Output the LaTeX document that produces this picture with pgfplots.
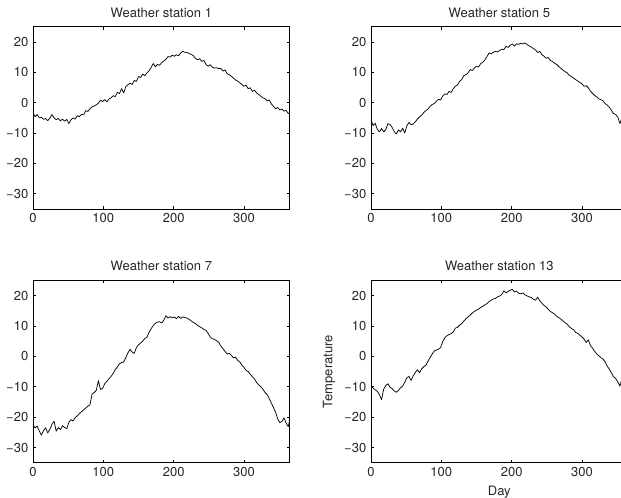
\documentclass[border=0pt]{standalone}
\usepackage{pgfplots}
\pgfplotsset{compat=1.18}
\usepackage{pgfplotstable}
\usepackage{fontspec}
\setmainfont{TeX Gyre Heros}

\pgfplotstableread{
d t
0 -3.4
3 -4.6
6 -3.9
9 -5.0
12 -4.8
15 -5.5
18 -5.2
21 -5.9
24 -5.1
27 -3.9
30 -5.0
33 -5.6
36 -5.2
39 -6.0
42 -5.4
45 -6.1
48 -5.5
51 -6.9
54 -5.6
57 -5.0
60 -5.4
63 -4.3
66 -4.6
69 -3.8
72 -4.0
75 -2.6
78 -2.9
81 -2.0
84 -1.4
87 -1.1
90 -0.7
93 -0.2
96 0.8
99 0.4
102 1.0
105 0.3
108 1.2
111 1.6
114 2.3
117 2.0
120 3.4
123 3.0
126 4.6
129 3.2
132 5.3
135 5.9
138 6.4
141 6.0
144 7.3
147 7.0
150 8.6
153 8.3
156 9.4
159 8.9
162 9.8
165 10.5
168 11.6
171 12.9
174 11.8
177 12.6
180 12.3
183 13.2
186 13.7
189 14.3
192 15.2
195 15.0
198 15.6
201 15.3
204 15.8
207 15.4
210 16.4
213 16.9
216 16.6
219 16.5
222 16.2
225 15.9
228 15.5
231 14.6
234 14.1
237 14.5
240 13.6
243 13.9
246 12.6
249 12.0
252 12.5
255 11.7
258 11.4
261 11.5
264 11.2
267 11.3
270 10.4
273 10.8
276 9.6
279 9.2
282 8.7
285 8.1
288 7.5
291 7.1
294 6.6
297 6.0
300 5.4
303 5.8
306 4.6
309 4.9
312 3.7
315 4.1
318 3.2
321 2.7
324 2.1
327 1.6
330 1.3
333 0.6
336 0.9
339 -0.4
342 -1.2
345 -2.0
348 -1.6
351 -2.4
354 -2.1
357 -2.8
360 -2.5
363 -3.6
365 -3.3
}\stA

\pgfplotstableread{
d t
0 -5.8
3 -7.5
6 -6.8
9 -8.8
12 -9.6
15 -8.5
18 -9.6
21 -8.9
24 -6.9
27 -7.2
30 -8.1
33 -9.5
36 -10.3
39 -9.0
42 -9.6
45 -8.4
48 -10.0
51 -7.6
54 -6.5
57 -7.3
60 -7.0
63 -6.3
66 -5.4
69 -4.7
72 -4.1
75 -3.3
78 -2.6
81 -2.1
84 -1.2
87 -0.6
90 -0.3
93 0.5
96 1.1
99 0.9
102 2.2
105 2.9
108 2.7
111 3.7
114 3.4
117 4.6
120 5.4
123 5.9
126 7.0
129 7.6
132 8.9
135 9.2
138 9.8
141 10.9
144 10.6
147 11.4
150 12.0
153 11.7
156 12.9
159 13.3
162 14.1
165 15.2
168 16.4
171 16.1
174 16.6
177 16.9
180 16.7
183 17.2
186 17.6
189 17.5
192 18.5
195 18.2
198 18.9
201 19.3
204 18.6
207 19.4
210 19.2
213 19.6
216 19.3
219 19.7
222 19.1
225 18.7
228 18.3
231 17.8
234 17.4
237 16.5
240 16.9
243 15.8
246 15.3
249 14.6
252 14.9
255 13.9
258 13.6
261 13.0
264 12.6
267 11.9
270 11.3
273 10.7
276 10.2
279 9.8
282 9.0
285 8.6
288 8.1
291 7.6
294 7.1
297 6.7
300 6.2
303 5.4
306 5.6
309 4.9
312 3.8
315 3.1
318 2.4
321 1.9
324 1.2
327 1.0
330 0.6
333 -0.3
336 -0.8
339 -1.5
342 -2.6
345 -3.6
348 -3.9
351 -4.8
354 -6.9
357 -4.9
360 -5.5
363 -6.1
365 -5.8
}\stB

\pgfplotstableread{
d t
0 -22.4
3 -23.6
6 -22.9
9 -24.6
12 -25.9
15 -24.4
18 -23.5
21 -25.2
24 -24.0
27 -22.3
30 -21.3
33 -24.6
36 -23.4
39 -24.1
42 -22.8
45 -23.4
48 -23.8
51 -21.7
54 -20.8
57 -21.3
60 -20.1
63 -19.6
66 -18.8
69 -18.2
72 -17.6
75 -17.0
78 -16.4
81 -15.9
84 -12.4
87 -11.9
90 -11.2
93 -8.0
96 -10.9
99 -10.5
102 -9.0
105 -8.2
108 -7.3
111 -6.6
114 -5.6
117 -4.3
120 -3.5
123 -2.4
126 -2.0
129 -1.8
132 -0.4
135 1.2
138 2.3
141 1.4
144 1.0
147 2.9
150 3.8
153 4.4
156 5.0
159 5.9
162 6.3
165 7.9
168 9.1
171 10.2
174 10.9
177 11.3
180 11.4
183 11.0
186 11.9
189 13.4
192 12.6
195 13.1
198 12.7
201 13.0
204 12.4
207 13.2
210 12.5
213 13.0
216 12.8
219 12.6
222 12.2
225 11.7
228 11.2
231 10.8
234 10.2
237 9.8
240 9.4
243 8.9
246 8.6
249 7.6
252 6.4
255 5.8
258 5.6
261 5.2
264 4.7
267 3.4
270 2.6
273 1.7
276 0.8
279 1.0
282 0.4
285 -0.5
288 -0.2
291 -1.3
294 -1.8
297 -2.9
300 -3.6
303 -4.6
306 -5.0
309 -5.9
312 -6.7
315 -7.4
318 -8.6
321 -9.4
324 -10.0
327 -10.8
330 -11.9
333 -12.6
336 -13.9
339 -15.4
342 -16.8
345 -18.4
348 -20.6
351 -21.8
354 -21.4
357 -20.2
360 -22.0
363 -23.1
365 -21.0
}\stC

\pgfplotstableread{
d t
0 -9.6
3 -10.4
6 -11.0
9 -11.5
12 -12.6
15 -14.2
18 -10.8
21 -9.6
24 -9.0
27 -10.1
30 -10.6
33 -11.3
36 -11.8
39 -11.2
42 -10.3
45 -9.8
48 -8.5
51 -7.0
54 -6.6
57 -7.9
60 -6.4
63 -5.3
66 -4.4
69 -5.4
72 -4.1
75 -3.4
78 -2.9
81 -1.6
84 -0.4
87 0.8
90 1.8
93 2.1
96 2.4
99 2.9
102 4.9
105 6.1
108 6.8
111 7.2
114 7.5
117 8.1
120 9.3
123 9.6
126 10.3
129 10.8
132 11.6
135 12.4
138 13.0
141 13.6
144 14.3
147 14.8
150 15.2
153 15.6
156 16.1
159 16.5
162 17.0
165 17.4
168 18.1
171 18.5
174 18.9
177 19.1
180 19.6
183 19.9
186 20.4
189 21.6
192 20.9
195 21.4
198 21.8
201 22.1
204 21.2
207 21.5
210 20.8
213 20.6
216 20.9
219 20.3
222 19.9
225 19.6
228 19.4
231 18.8
234 18.5
237 19.5
240 18.3
243 17.5
246 16.8
249 16.3
252 15.5
255 14.8
258 14.4
261 13.9
264 13.2
267 12.8
270 12.3
273 11.7
276 11.1
279 10.6
282 9.8
285 9.2
288 8.8
291 7.9
294 7.6
297 7.0
300 6.4
303 5.7
306 4.6
309 5.5
312 3.6
315 2.7
318 1.7
321 0.8
324 0.2
327 -0.4
330 -0.9
333 -1.8
336 -3.3
339 -4.2
342 -5.5
345 -6.7
348 -7.3
351 -8.4
354 -9.8
357 -7.1
360 -6.5
363 -7.5
365 -7.0
}\stD

\pgfplotsset{
  wsaxis/.style={
    scale only axis,
    width=192.5pt, height=136.7pt,
    anchor=south west,
    xmin=0, xmax=365, ymin=-35, ymax=25,
    xtick={0,100,200,300},
    xticklabels={0,100,200,300},
    ytick={-30,-20,-10,0,10,20},
    yticklabels={−30,−20,−10,0,10,20},
    tick align=inside,
    major tick length=2.2pt,
    every tick/.style={black, line width=0.5pt},
    axis line style={black, line width=0.6pt},
    tick label style={font=\fontsize{9.75}{11}\selectfont, text=black!85},
    label style={font=\fontsize{9.75}{11}\selectfont, text=black!85},
    title style={font=\fontsize{9.75}{11}\selectfont, text=black!85, yshift=-2.5pt},
  },
  wsline/.style={black, no markers, line width=0.55pt, line join=round},
}

\begin{document}
\begin{tikzpicture}
\useasboundingbox (0,0) rectangle (465.75pt,372.75pt);
\begin{axis}[wsaxis, at={(24.75pt,216pt)}, title={Weather station 1}]
\addplot[wsline] table[x=d, y=t] {\stA};
\end{axis}
\begin{axis}[wsaxis, at={(278.25pt,216pt)}, title={Weather station 5}]
\addplot[wsline] table[x=d, y=t] {\stB};
\end{axis}
\begin{axis}[wsaxis, at={(24.75pt,25.7pt)}, title={Weather station 7}]
\addplot[wsline] table[x=d, y=t] {\stC};
\end{axis}
\begin{axis}[wsaxis, at={(278.25pt,25.7pt)}, title={Weather station 13},
  xlabel={Day}, ylabel={Temperature}]
\addplot[wsline] table[x=d, y=t] {\stD};
\end{axis}
\end{tikzpicture}
\end{document}
